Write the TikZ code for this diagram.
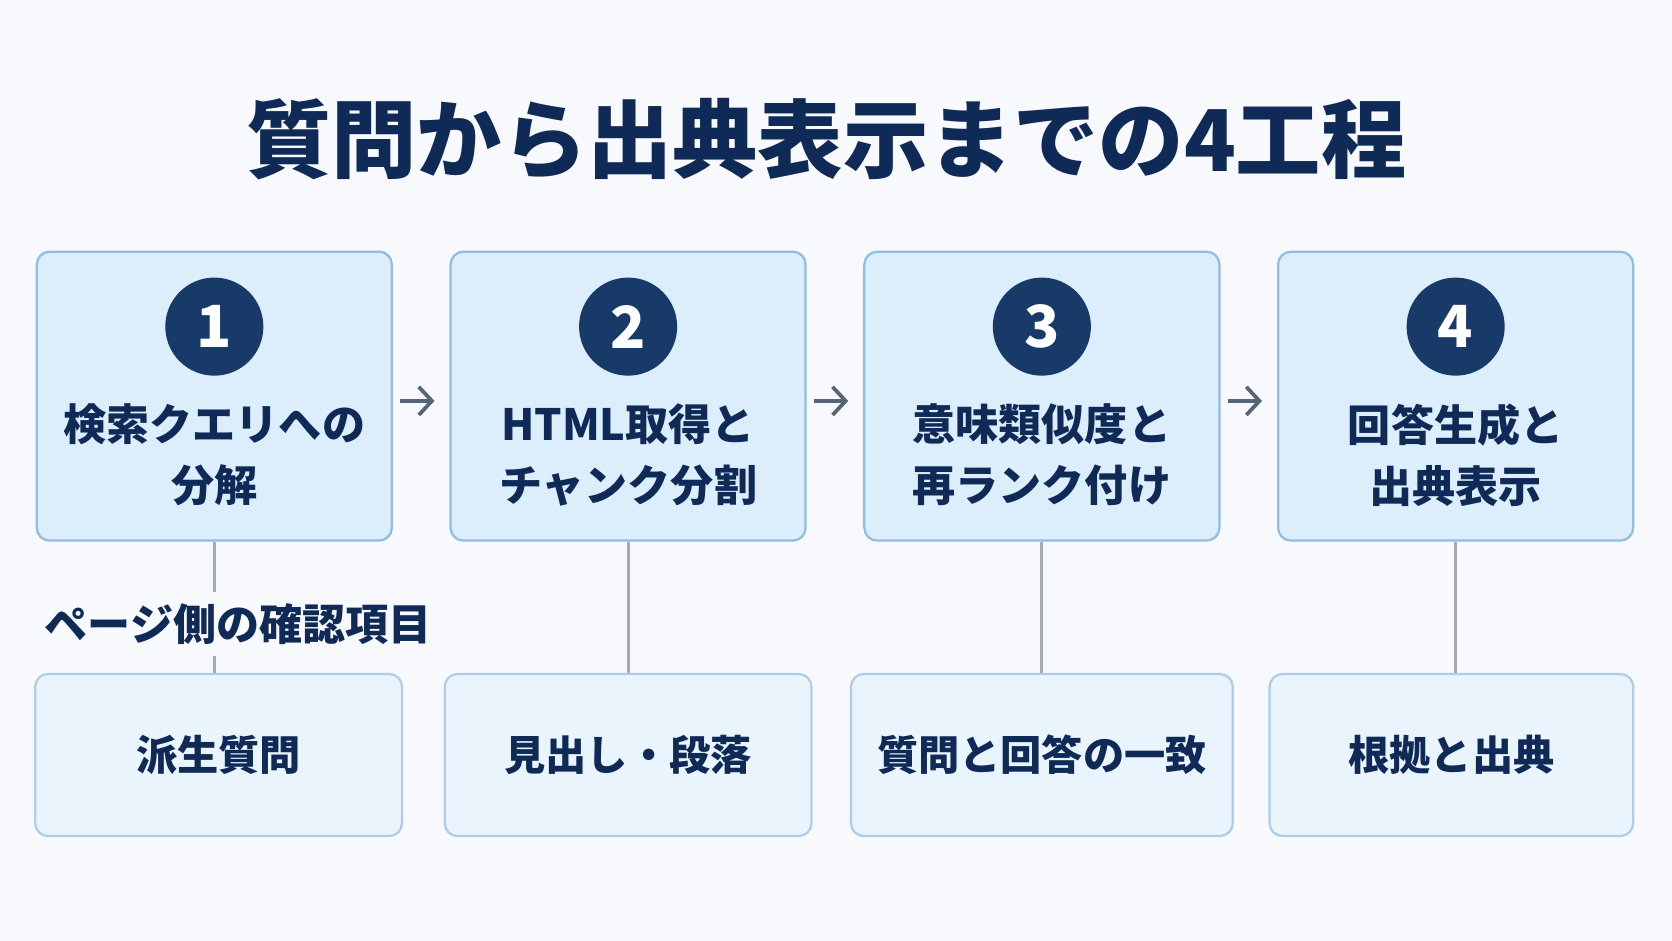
\documentclass[tikz,border=0pt]{standalone}
\usepackage{fontspec}
\setmainfont{Noto Sans CJK JP}
\usetikzlibrary{positioning,arrows.meta}
\definecolor{bgcol}{HTML}{F7F9FC}
\definecolor{navy}{HTML}{0F2A57}
\definecolor{numcol}{HTML}{173A68}
\definecolor{stepfill}{HTML}{DCEDFB}
\definecolor{stepline}{HTML}{90BDE6}
\definecolor{checkfill}{HTML}{EAF4FD}
\definecolor{checkline}{HTML}{AFCDEB}
\definecolor{arrowcol}{HTML}{556477}
\definecolor{linkcol}{HTML}{A3ABB6}
\tikzset{
	stepbox/.style={draw=stepline, fill=stepfill, line width=1.2pt, rounded corners=0.24cm,
		minimum width=6.66cm, minimum height=5.42cm},
	checkbox/.style={draw=checkline, fill=checkfill, line width=1.2pt, rounded corners=0.24cm,
		minimum height=3.04cm, text=navy, font=\bfseries\fontsize{22pt}{28pt}\selectfont},
	numdot/.style={circle, fill=numcol, minimum size=1.84cm, inner sep=0pt, text=white,
		font=\bfseries\fontsize{31pt}{31pt}\selectfont},
	steptext/.style={align=center, text=navy, inner sep=0pt,
		font=\bfseries\fontsize{23pt}{32.5pt}\selectfont},
	flow/.style={-{Straight Barb[length=7pt,width=15pt]}, arrowcol, line width=2pt},
	link/.style={linkcol, line width=1.5pt}
}
\begin{document}
\begin{tikzpicture}[x=0.02cm, y=-0.02cm]
	% background and frame
	\fill[bgcol] (0,0) rectangle (1568,882);
	\useasboundingbox (0,0) rectangle (1568,882);
	
	\node[text=navy, font=\bfseries\fontsize{45.5pt}{46pt}\selectfont] (title) at (775,130) {質問から出典表示までの4工程};
	
	% the four steps
	\node[stepbox] (s1) at (201,371.5) {};
	\node[stepbox, right = 1.06cm of s1] (s2) {};
	\node[stepbox, right = 1.06cm of s2] (s3) {};
	\node[stepbox, right = 1.06cm of s3] (s4) {};
	
	\foreach \i in {1,...,4}{
		\node[numdot, below = 0.5cm of s\i.north] (n\i) {\i};
	}
	
	\node[steptext, below = 0.52cm of n1] (t1) {検索クエリへの\\分解};
	\node[steptext, below = 0.52cm of n2] (t2) {HTML取得と\\チャンク分割};
	\node[steptext, below = 0.52cm of n3] (t3) {意味類似度と\\再ランク付け};
	\node[steptext, below = 0.52cm of n4] (t4) {回答生成と\\出典表示};
	
	% checks on the page side
	\node[checkbox, minimum width=6.88cm, below = 2.46cm of s1, xshift=0.08cm] (c1) {派生質問};
	\node[checkbox, minimum width=6.88cm, below = 2.46cm of s2] (c2) {見出し・段落};
	\node[checkbox, minimum width=7.16cm, below = 2.46cm of s3] (c3) {質問と回答の一致};
	\node[checkbox, minimum width=6.82cm, below = 2.46cm of s4, xshift=-0.08cm] (c4) {根拠と出典};
	
	\foreach \i in {1,...,4}{
		\draw[link] (s\i.south) -- (s\i.south |- c\i.north);
	}
	\foreach \i/\j in {1/2,2/3,3/4}{
		\draw[flow, shorten <=4pt, shorten >=8pt] ([yshift=-0.09cm]s\i.east) -- ([yshift=-0.09cm]s\j.west);
	}
	
	\node[anchor=west, fill=bgcol, inner xsep=2pt, inner ysep=6pt, text=navy,
		font=\bfseries\fontsize{23pt}{23pt}\selectfont] (side) at (38,585) {ページ側の確認項目};
\end{tikzpicture}
\end{document}
